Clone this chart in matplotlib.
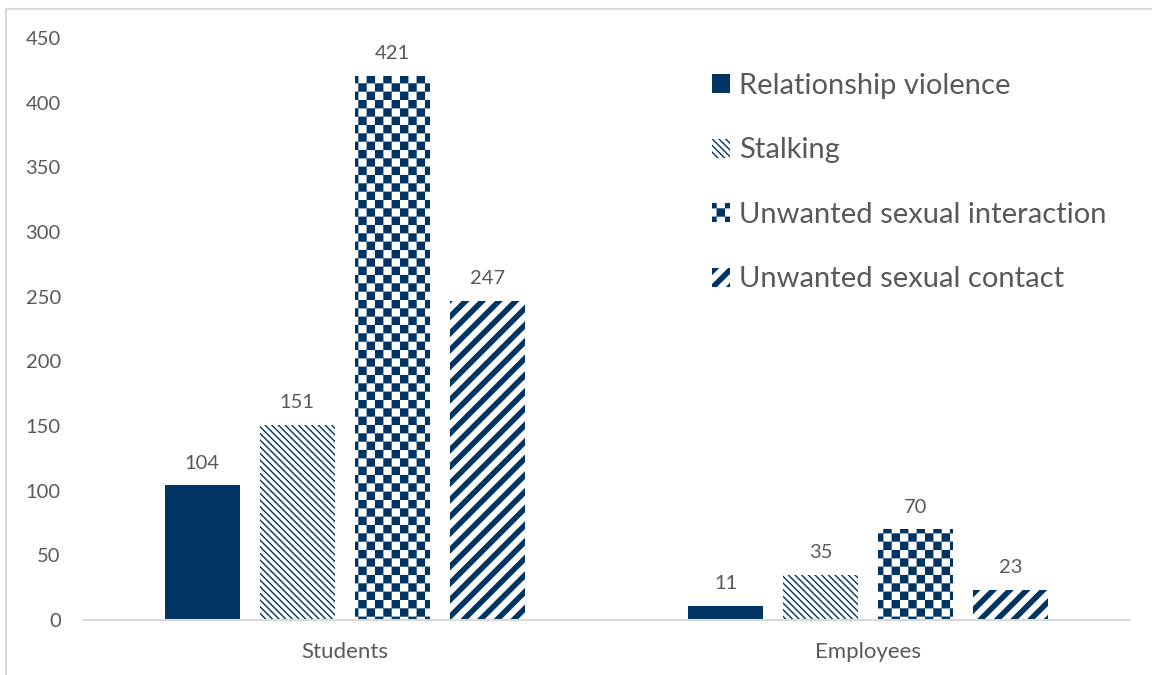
import matplotlib
matplotlib.use("Agg")
import matplotlib.pyplot as plt
import matplotlib.hatch as mhatch
from matplotlib.path import Path
from matplotlib.patches import Rectangle
import numpy as np

categories = ["Students", "Employees"]
series_names = ["Relationship violence", "Stalking",
                "Unwanted sexual interaction", "Unwanted sexual contact"]
relationship_violence = [104, 11]
stalking = [151, 35]
unwanted_interaction = [421, 70]
unwanted_contact = [247, 23]
y_ticks = [0, 50, 100, 150, 200, 250, 300, 350, 400, 450]

NAVY = "#003462"
GRAY = "#595959"
CHECK = "xxxxxxxx"   # sentinel pattern for checkerboard

# ---- custom checkerboard hatch ----
_orig_get_path = mhatch.get_path
def _checker_path(n=12):
    s = 1.0 / n
    verts, codes = [], []
    for i in range(n):
        for j in range(n):
            if (i + j) % 2 == 0:
                x0, y0 = i * s, j * s
                verts += [(x0, y0), (x0 + s, y0), (x0 + s, y0 + s), (x0, y0 + s), (x0, y0)]
                codes += [Path.MOVETO, Path.LINETO, Path.LINETO, Path.LINETO, Path.CLOSEPOLY]
    return Path(np.array(verts), np.array(codes, dtype=Path.code_type))
def _get_path(hatchpattern, density=6):
    if hatchpattern == CHECK:
        return _checker_path(12)
    return _orig_get_path(hatchpattern, density)
mhatch.get_path = _get_path

plt.rcParams['font.family'] = ['Lato', 'DejaVu Sans']
plt.rcParams['hatch.color'] = NAVY

fig = plt.figure(figsize=(11.52, 6.75), dpi=100)
ax = fig.add_axes([83/1152, 1-620/675, (1130-83)/1152, (620-38)/675])

series = [relationship_violence, stalking, unwanted_interaction, unwanted_contact]
styles = [
    dict(hatch=None, fc=NAVY, hlw=1.0),
    dict(hatch="\\" * 5, fc="white", hlw=1.0),
    dict(hatch=CHECK, fc="white", hlw=0.1),
    dict(hatch="//", fc="white", hlw=4.0),
]
x = np.arange(len(categories))
slot = 95/523.5
width = 75/523.5
for k, (vals, st) in enumerate(zip(series, styles)):
    off = (k - 1.5) * slot
    bars = ax.bar(x + off, vals, width, color=st['fc'], edgecolor=NAVY,
                  linewidth=0, hatch=st['hatch'], label=series_names[k], zorder=2)
    for b in bars:
        if hasattr(b, "set_hatch_linewidth"):
            b.set_hatch_linewidth(st['hlw'])
    for xi, v in zip(x + off, vals):
        ax.annotate(str(v), (xi, v), xytext=(0, 10), textcoords="offset points",
                    ha="center", va="bottom", color=GRAY, fontsize=14.5)

ax.set_xlim(-0.5, 1.5)
ax.set_ylim(0, 450)
ax.set_yticks(y_ticks)
ax.set_xticks(x)
ax.set_xticklabels(categories)
ax.tick_params(axis='both', length=0, colors=GRAY)
ax.tick_params(axis='y', pad=16, labelsize=14.5)
ax.tick_params(axis='x', pad=16, labelsize=16)
for s in ['top', 'right', 'left']:
    ax.spines[s].set_visible(False)
ax.spines['bottom'].set_color("#d9d9d9")
ax.spines['bottom'].set_linewidth(1.5)

leg = ax.legend(loc="upper left", bbox_to_anchor=(0.576, 0.985), frameon=False,
                fontsize=21, handlelength=0.62, handleheight=0.62,
                handletextpad=0.3, labelspacing=1.32, labelcolor=GRAY)
for p, st in zip(leg.get_patches(), styles):
    if hasattr(p, "set_hatch_linewidth"):
        p.set_hatch_linewidth(st['hlw'])

fig.add_artist(Rectangle((6/1152, -0.1), 1.2, 1 - 9/675 + 0.1,
                         transform=fig.transFigure, fill=False,
                         ec="#d9d9d9", lw=1.5, clip_on=False))

fig.savefig("out.png", dpi=100)
